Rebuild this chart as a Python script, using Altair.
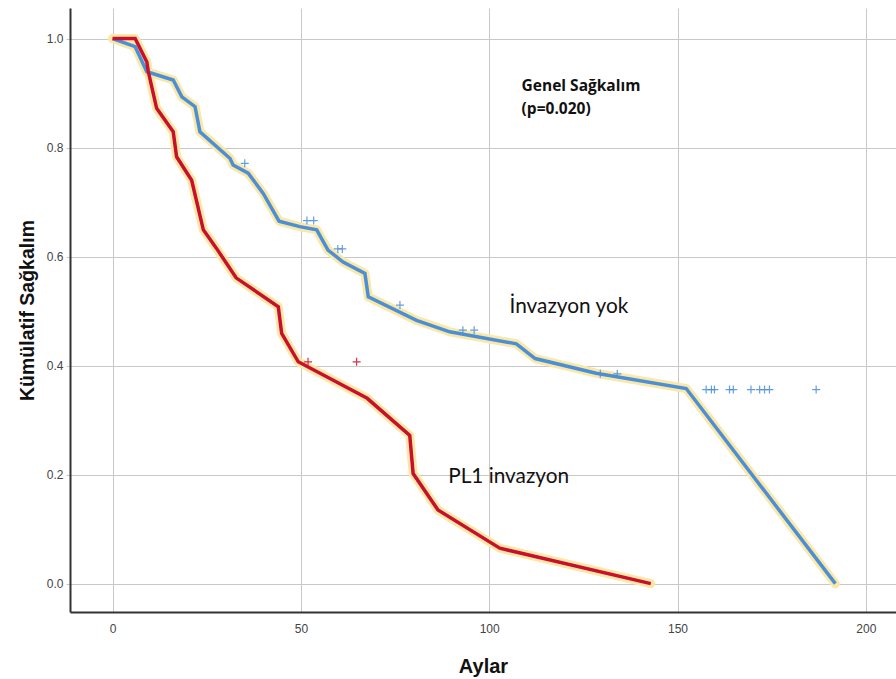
import altair as alt
import pandas as pd

# Survival curve: no invasion
blue_t = [0, 6, 9.1, 16.1, 18.4, 21.9, 23.2, 31.2, 32, 36, 40, 44.2, 49.7, 54.2, 57.2, 61.2, 67, 67.9,
          80.7, 89.5, 107.2, 112.2, 128.4, 152.3, 191.9]
blue_s = [1.0, 0.985, 0.939, 0.924, 0.893, 0.875, 0.829, 0.780, 0.768, 0.753, 0.716, 0.665, 0.655, 0.649,
          0.612, 0.590, 0.569, 0.526, 0.483, 0.462, 0.440, 0.413, 0.386, 0.358, 0.0]

# Survival curve: PL1 invasion
red_t = [0, 6, 9.1, 9.5, 11.7, 16.1, 17, 21, 24.1, 27.6, 32.8, 44, 44.9, 49.3, 67.6, 78.9, 79.8, 86.4,
         102.8, 142.9]
red_s = [1.0, 1.0, 0.957, 0.939, 0.872, 0.829, 0.783, 0.740, 0.649, 0.615, 0.561, 0.508, 0.459, 0.407,
         0.340, 0.272, 0.202, 0.135, 0.065, 0.0]

# Censored observations
blue_cens_t = [35.1, 51.6, 53.4, 59.8, 61, 76.3, 93, 96, 129.5, 134, 157.6, 159, 159.8, 163.8, 164.8,
               169.5, 171.8, 173.1, 174.4, 186.8]
blue_cens_s = [0.771, 0.666, 0.666, 0.614, 0.614, 0.511, 0.465, 0.465, 0.385, 0.385, 0.356, 0.356, 0.356,
               0.356, 0.356, 0.356, 0.356, 0.356, 0.356, 0.356]
red_cens_t = [51.9, 64.8]
red_cens_s = [0.407, 0.407]

x_ticks = [0, 50, 100, 150, 200]
y_ticks = [0.0, 0.2, 0.4, 0.6, 0.8, 1.0]

group_names = ["İnvazyon yok", "PL1 invazyon"]
group_colors = ["#4a8fd8", "#c8102e"]
halo_color = "#fbe7a6"

curves = pd.concat([
    pd.DataFrame({"t": blue_t, "s": blue_s, "g": group_names[0], "i": range(len(blue_t))}),
    pd.DataFrame({"t": red_t, "s": red_s, "g": group_names[1], "i": range(len(red_t))}),
])
cens = pd.concat([
    pd.DataFrame({"t": blue_cens_t, "s": blue_cens_s, "g": group_names[0]}),
    pd.DataFrame({"t": red_cens_t, "s": red_cens_s, "g": group_names[1]}),
])

labels = pd.DataFrame({
    "t": [105.4, 89.1],
    "s": [0.496, 0.184],
    "txt": group_names,
})
title_lbl = pd.DataFrame({
    "t": [108.6, 108.6],
    "s": [0.904, 0.862],
    "txt": ["Genel Sağkalım", "(p=0.020)"],
})

xscale = alt.Scale(domain=[-11.3, 208], nice=False, zero=False)
yscale = alt.Scale(domain=[-0.052, 1.056], nice=False, zero=False)
color = alt.Color("g:N", scale=alt.Scale(domain=group_names, range=group_colors), legend=None)

x_enc = alt.X("t:Q", scale=xscale, title="Aylar",
              axis=alt.Axis(values=x_ticks, format="d", grid=True, ticks=False, labelPadding=11,
                            titlePadding=22, titleFontSize=20))
y_enc = alt.Y("s:Q", scale=yscale, title="Kümülatif Sağkalım",
              axis=alt.Axis(values=y_ticks, format=".1f", grid=True, ticks=True, tickSize=4,
                            tickColor="#c8c8c8", labelPadding=3, titlePadding=9, titleFontSize=19.5))

base = alt.Chart(curves)
halo = base.mark_line(strokeWidth=9, color=halo_color, strokeJoin="round", strokeCap="round").encode(
    x=x_enc, y=y_enc, detail="g:N", order="i:Q")
line = base.mark_line(strokeWidth=3.5, strokeJoin="miter").encode(
    x="t:Q", y="s:Q", color=color, order="i:Q")

cens_mark = alt.Chart(cens).mark_point(
    shape="M-1,0H1M0,-1V1", size=64, strokeWidth=1.2, filled=False, opacity=0.85
).encode(x="t:Q", y="s:Q", color=color)

grp_text = alt.Chart(labels).mark_text(
    align="left", baseline="alphabetic", font="Lato", fontSize=20.8, color="#111"
).encode(x="t:Q", y="s:Q", text="txt:N")

hdr_text = alt.Chart(title_lbl).mark_text(
    align="left", baseline="alphabetic", font="Open Sans", fontSize=15.5, fontWeight="bold",
    color="#111"
).encode(x="t:Q", y="s:Q", text="txt:N")

chart = alt.layer(halo, line, cens_mark, grp_text, hdr_text).properties(
    width=826, height=604,
    autosize=alt.AutoSizeParams(type="none"),
    padding={"left": 70, "top": 8, "right": 0, "bottom": 67},
).configure_view(stroke=None).configure_axis(
    domainColor="#333333", domainWidth=2, gridColor="#c8c8c8", gridWidth=1,
    labelFont="Liberation Sans", labelFontSize=12, labelColor="#444444",
    titleFont="Liberation Sans", titleFontWeight="bold", titleColor="#111111",
)

chart.save("out.html", embed_options={"renderer": "svg", "actions": False})
